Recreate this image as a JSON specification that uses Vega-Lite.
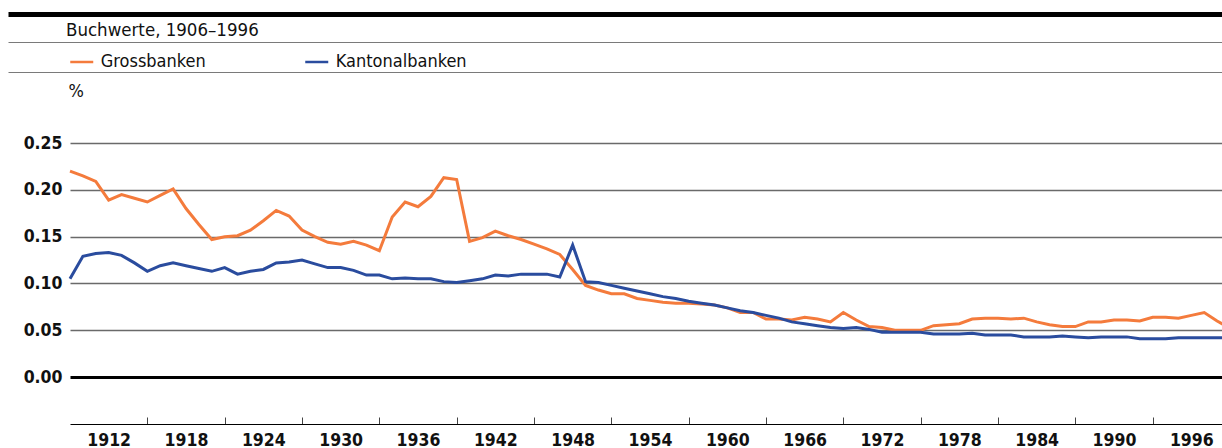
{
  "$schema": "https://vega.github.io/schema/vega-lite/v6.json",
  "width": 1222,
  "height": 281,
  "autosize": {"type": "none"},
  "padding": {"left": 0, "right": 0, "top": 143, "bottom": 24},
  "background": "white",
  "config": {
    "view": {"stroke": null},
    "font": "DejaVu Sans Condensed",
    "axis": {"labelFont": "DejaVu Sans Condensed", "titleFont": "DejaVu Sans Condensed"},
    "legend": {"labelFont": "DejaVu Sans Condensed"}
  },
  "title": {
    "text": "Buchwerte, 1906–1996",
    "anchor": "start",
    "frame": "group",
    "dx": 66,
    "dy": 29,
    "fontSize": 18.5,
    "fontWeight": "normal",
    "color": "#111111",
    "font": "DejaVu Sans Condensed"
  },
  "data": {
    "values": [
      {"year": 1906, "Grossbanken": 0.220, "Kantonalbanken": 0.105},
      {"year": 1907, "Grossbanken": 0.215, "Kantonalbanken": 0.129},
      {"year": 1908, "Grossbanken": 0.209, "Kantonalbanken": 0.132},
      {"year": 1909, "Grossbanken": 0.189, "Kantonalbanken": 0.133},
      {"year": 1910, "Grossbanken": 0.195, "Kantonalbanken": 0.130},
      {"year": 1911, "Grossbanken": 0.191, "Kantonalbanken": 0.122},
      {"year": 1912, "Grossbanken": 0.187, "Kantonalbanken": 0.113},
      {"year": 1913, "Grossbanken": 0.194, "Kantonalbanken": 0.119},
      {"year": 1914, "Grossbanken": 0.201, "Kantonalbanken": 0.122},
      {"year": 1915, "Grossbanken": 0.180, "Kantonalbanken": 0.119},
      {"year": 1916, "Grossbanken": 0.163, "Kantonalbanken": 0.116},
      {"year": 1917, "Grossbanken": 0.147, "Kantonalbanken": 0.113},
      {"year": 1918, "Grossbanken": 0.150, "Kantonalbanken": 0.117},
      {"year": 1919, "Grossbanken": 0.151, "Kantonalbanken": 0.110},
      {"year": 1920, "Grossbanken": 0.157, "Kantonalbanken": 0.113},
      {"year": 1921, "Grossbanken": 0.167, "Kantonalbanken": 0.115},
      {"year": 1922, "Grossbanken": 0.178, "Kantonalbanken": 0.122},
      {"year": 1923, "Grossbanken": 0.172, "Kantonalbanken": 0.123},
      {"year": 1924, "Grossbanken": 0.157, "Kantonalbanken": 0.125},
      {"year": 1925, "Grossbanken": 0.150, "Kantonalbanken": 0.121},
      {"year": 1926, "Grossbanken": 0.144, "Kantonalbanken": 0.117},
      {"year": 1927, "Grossbanken": 0.142, "Kantonalbanken": 0.117},
      {"year": 1928, "Grossbanken": 0.145, "Kantonalbanken": 0.114},
      {"year": 1929, "Grossbanken": 0.141, "Kantonalbanken": 0.109},
      {"year": 1930, "Grossbanken": 0.135, "Kantonalbanken": 0.109},
      {"year": 1931, "Grossbanken": 0.171, "Kantonalbanken": 0.105},
      {"year": 1932, "Grossbanken": 0.187, "Kantonalbanken": 0.106},
      {"year": 1933, "Grossbanken": 0.182, "Kantonalbanken": 0.105},
      {"year": 1934, "Grossbanken": 0.193, "Kantonalbanken": 0.105},
      {"year": 1935, "Grossbanken": 0.213, "Kantonalbanken": 0.102},
      {"year": 1936, "Grossbanken": 0.211, "Kantonalbanken": 0.101},
      {"year": 1937, "Grossbanken": 0.145, "Kantonalbanken": 0.103},
      {"year": 1938, "Grossbanken": 0.149, "Kantonalbanken": 0.105},
      {"year": 1939, "Grossbanken": 0.156, "Kantonalbanken": 0.109},
      {"year": 1940, "Grossbanken": 0.151, "Kantonalbanken": 0.108},
      {"year": 1941, "Grossbanken": 0.147, "Kantonalbanken": 0.110},
      {"year": 1942, "Grossbanken": 0.142, "Kantonalbanken": 0.110},
      {"year": 1943, "Grossbanken": 0.137, "Kantonalbanken": 0.110},
      {"year": 1944, "Grossbanken": 0.131, "Kantonalbanken": 0.107},
      {"year": 1945, "Grossbanken": 0.115, "Kantonalbanken": 0.141},
      {"year": 1946, "Grossbanken": 0.098, "Kantonalbanken": 0.102},
      {"year": 1947, "Grossbanken": 0.093, "Kantonalbanken": 0.101},
      {"year": 1948, "Grossbanken": 0.089, "Kantonalbanken": 0.098},
      {"year": 1949, "Grossbanken": 0.089, "Kantonalbanken": 0.095},
      {"year": 1950, "Grossbanken": 0.084, "Kantonalbanken": 0.092},
      {"year": 1951, "Grossbanken": 0.082, "Kantonalbanken": 0.089},
      {"year": 1952, "Grossbanken": 0.080, "Kantonalbanken": 0.086},
      {"year": 1953, "Grossbanken": 0.079, "Kantonalbanken": 0.084},
      {"year": 1954, "Grossbanken": 0.079, "Kantonalbanken": 0.081},
      {"year": 1955, "Grossbanken": 0.078, "Kantonalbanken": 0.079},
      {"year": 1956, "Grossbanken": 0.077, "Kantonalbanken": 0.077},
      {"year": 1957, "Grossbanken": 0.074, "Kantonalbanken": 0.074},
      {"year": 1958, "Grossbanken": 0.069, "Kantonalbanken": 0.071},
      {"year": 1959, "Grossbanken": 0.069, "Kantonalbanken": 0.069},
      {"year": 1960, "Grossbanken": 0.062, "Kantonalbanken": 0.066},
      {"year": 1961, "Grossbanken": 0.062, "Kantonalbanken": 0.063},
      {"year": 1962, "Grossbanken": 0.061, "Kantonalbanken": 0.059},
      {"year": 1963, "Grossbanken": 0.064, "Kantonalbanken": 0.057},
      {"year": 1964, "Grossbanken": 0.062, "Kantonalbanken": 0.055},
      {"year": 1965, "Grossbanken": 0.059, "Kantonalbanken": 0.053},
      {"year": 1966, "Grossbanken": 0.069, "Kantonalbanken": 0.052},
      {"year": 1967, "Grossbanken": 0.061, "Kantonalbanken": 0.053},
      {"year": 1968, "Grossbanken": 0.054, "Kantonalbanken": 0.051},
      {"year": 1969, "Grossbanken": 0.053, "Kantonalbanken": 0.048},
      {"year": 1970, "Grossbanken": 0.050, "Kantonalbanken": 0.048},
      {"year": 1971, "Grossbanken": 0.050, "Kantonalbanken": 0.048},
      {"year": 1972, "Grossbanken": 0.050, "Kantonalbanken": 0.048},
      {"year": 1973, "Grossbanken": 0.055, "Kantonalbanken": 0.046},
      {"year": 1974, "Grossbanken": 0.056, "Kantonalbanken": 0.046},
      {"year": 1975, "Grossbanken": 0.057, "Kantonalbanken": 0.046},
      {"year": 1976, "Grossbanken": 0.062, "Kantonalbanken": 0.047},
      {"year": 1977, "Grossbanken": 0.063, "Kantonalbanken": 0.045},
      {"year": 1978, "Grossbanken": 0.063, "Kantonalbanken": 0.045},
      {"year": 1979, "Grossbanken": 0.062, "Kantonalbanken": 0.045},
      {"year": 1980, "Grossbanken": 0.063, "Kantonalbanken": 0.043},
      {"year": 1981, "Grossbanken": 0.059, "Kantonalbanken": 0.043},
      {"year": 1982, "Grossbanken": 0.056, "Kantonalbanken": 0.043},
      {"year": 1983, "Grossbanken": 0.054, "Kantonalbanken": 0.044},
      {"year": 1984, "Grossbanken": 0.054, "Kantonalbanken": 0.043},
      {"year": 1985, "Grossbanken": 0.059, "Kantonalbanken": 0.042},
      {"year": 1986, "Grossbanken": 0.059, "Kantonalbanken": 0.043},
      {"year": 1987, "Grossbanken": 0.061, "Kantonalbanken": 0.043},
      {"year": 1988, "Grossbanken": 0.061, "Kantonalbanken": 0.043},
      {"year": 1989, "Grossbanken": 0.060, "Kantonalbanken": 0.041},
      {"year": 1990, "Grossbanken": 0.064, "Kantonalbanken": 0.041},
      {"year": 1991, "Grossbanken": 0.064, "Kantonalbanken": 0.041},
      {"year": 1992, "Grossbanken": 0.063, "Kantonalbanken": 0.042},
      {"year": 1993, "Grossbanken": 0.066, "Kantonalbanken": 0.042},
      {"year": 1994, "Grossbanken": 0.069, "Kantonalbanken": 0.042},
      {"year": 1995, "Grossbanken": 0.060, "Kantonalbanken": 0.042},
      {"year": 1996, "Grossbanken": 0.052, "Kantonalbanken": 0.042}
    ]
  },
  "layer": [
    {
      "transform": [{"fold": ["Grossbanken", "Kantonalbanken"], "as": ["bank", "value"]}],
      "mark": {"type": "line", "strokeWidth": 3, "clip": true, "strokeJoin": "miter"},
      "encoding": {
        "x": {
          "field": "year",
          "type": "quantitative",
          "scale": {"domain": [1906, 1996], "range": [70, 1230], "nice": false, "zero": false},
          "axis": {
            "orient": "bottom",
            "title": null,
            "values": [1912, 1918, 1924, 1930, 1936, 1942, 1948, 1954, 1960, 1966, 1972, 1978, 1984, 1990, 1996],
            "format": "d",
            "grid": false,
            "domain": true,
            "domainColor": "#000000",
            "domainWidth": 1.2,
            "ticks": true,
            "tickSize": -7,
            "tickColor": "#444444",
            "tickWidth": 1,
            "labelOffset": -38.7,
            "labelPadding": 14,
            "labelFontSize": 17.5,
            "labelFontWeight": "bold",
            "labelColor": "#111111",
            "labelFlush": false,
            "labelOverlap": false
          }
        },
        "y": {
          "field": "value",
          "type": "quantitative",
          "scale": {"domain": [-0.05, 0.25], "nice": false, "zero": false},
          "axis": {
            "values": [0, 0.05, 0.1, 0.15, 0.2, 0.25],
            "format": ".2f",
            "title": "%",
            "titleAngle": 0,
            "titleX": -2,
            "titleY": -47,
            "titleAlign": "left",
            "titleBaseline": "alphabetic",
            "titleFontSize": 18,
            "titleFontWeight": "normal",
            "titleColor": "#111111",
            "offset": -70,
            "domain": false,
            "ticks": false,
            "labelPadding": 8,
            "labelFontSize": 17.5,
            "labelFontWeight": "bold",
            "labelColor": "#111111",
            "grid": true,
            "gridColor": {"condition": {"test": "datum.value === 0", "value": "#000000"}, "value": "#6a6a6a"},
            "gridWidth": {"condition": {"test": "datum.value === 0", "value": 3}, "value": 1.6}
          }
        },
        "color": {
          "field": "bank",
          "type": "nominal",
          "scale": {"domain": ["Grossbanken", "Kantonalbanken"], "range": ["#f47b3c", "#2a4c9e"]},
          "legend": {
            "title": null,
            "orient": "none",
            "direction": "horizontal",
            "legendX": 68.75,
            "legendY": -94,
            "padding": 0,
            "symbolType": "stroke",
            "symbolSize": 529,
            "symbolStrokeWidth": 2.5,
            "labelFontSize": 18,
            "labelColor": "#111111",
            "labelOffset": 6,
            "columnPadding": 93
          }
        }
      }
    },
    {
      "mark": {"type": "point", "opacity": 0},
      "encoding": {
        "x": {
          "field": "year",
          "type": "quantitative",
          "axis": {"orient": "top", "offset": 129, "position": 8, "domain": true, "domainColor": "#000000", "domainWidth": 5, "ticks": false, "labels": false, "grid": false, "title": null}
        }
      }
    },
    {
      "mark": {"type": "point", "opacity": 0},
      "encoding": {
        "x": {
          "field": "year",
          "type": "quantitative",
          "axis": {"orient": "top", "offset": 101, "position": 8, "domain": true, "domainColor": "#7a7a7a", "domainWidth": 1, "ticks": false, "labels": false, "grid": false, "title": null}
        }
      }
    },
    {
      "mark": {"type": "point", "opacity": 0},
      "encoding": {
        "x": {
          "field": "year",
          "type": "quantitative",
          "axis": {"orient": "top", "offset": 71, "position": 8, "domain": true, "domainColor": "#7a7a7a", "domainWidth": 1, "ticks": false, "labels": false, "grid": false, "title": null}
        }
      }
    }
  ],
  "resolve": {"scale": {"x": "independent"}, "axis": {"x": "independent"}}
}
